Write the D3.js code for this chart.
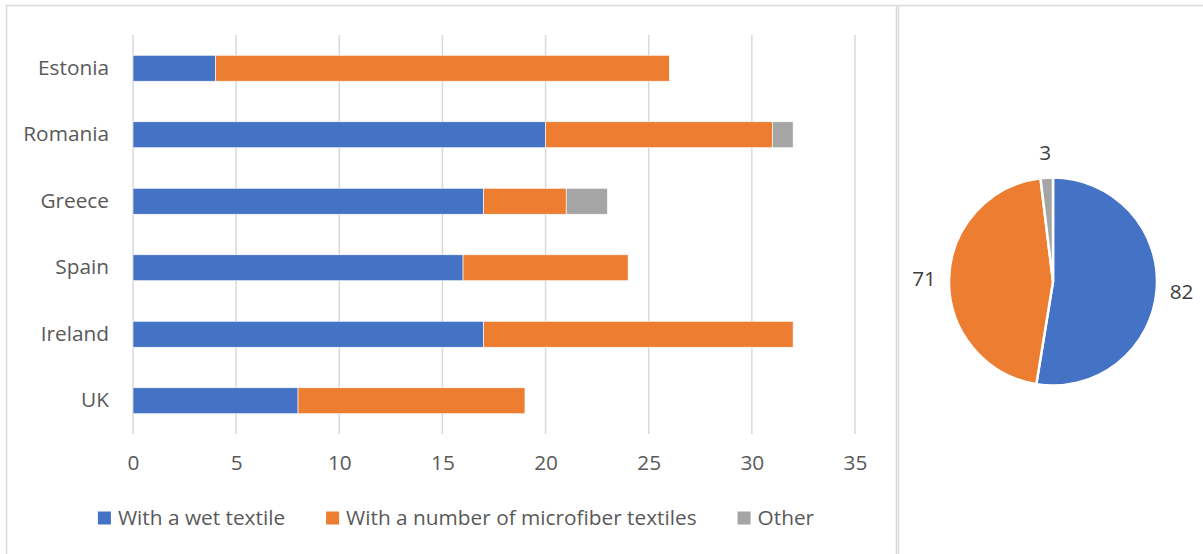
<!DOCTYPE html>
<html>
<head>
<meta charset="utf-8">
<script src="https://cdn.jsdelivr.net/npm/d3@7"></script>
<style>
  html, body { margin: 0; padding: 0; background: #fff; }
  svg { display: block; font-family: "Open Sans", sans-serif; }
</style>
</head>
<body>
<svg id="chart" width="1203" height="554"></svg>
<script>
// Countries, top to bottom
const countries = ["Estonia", "Romania", "Greece", "Spain", "Ireland", "UK"];

// Stacked series values per country
const wetTextile        = [4, 20, 17, 16, 17, 8];
const microfiberTextile = [22, 11, 4, 8, 15, 11];
const otherMethod       = [0, 1, 2, 0, 0, 0];

const seriesNames  = ["With a wet textile", "With a number of microfiber textiles", "Other"];
const seriesColors = ["#4472c4", "#ed7d31", "#a5a5a5"];

// Totals shown in the pie
const pieTotals = [82, 71, 3];

const xTicks = [0, 5, 10, 15, 20, 25, 30, 35];

const textColor = "#595959";
const gridColor = "#d9d9d9";
const fontSize = 20.8;

const svg = d3.select("#chart");

// Panel frames
svg.append("rect").attr("x", 6.5).attr("y", 5.5).attr("width", 890).attr("height", 600)
  .attr("fill", "none").attr("stroke", gridColor).attr("stroke-width", 1.5);
svg.append("rect").attr("x", 898.5).attr("y", 5.5).attr("width", 400).attr("height", 600)
  .attr("fill", "none").attr("stroke", gridColor).attr("stroke-width", 1.5);

// ---------- Stacked bar chart ----------
const plot = { left: 133, right: 855, top: 35, bottom: 434 };

const x = d3.scaleLinear().domain([0, 35]).range([plot.left, plot.right]);
const y = d3.scaleBand().domain(countries).range([plot.top, plot.bottom])
  .paddingInner(0.61).paddingOuter(0.305);

// Vertical gridlines
svg.append("g").selectAll("line").data(xTicks).join("line")
  .attr("x1", d => x(d)).attr("x2", d => x(d))
  .attr("y1", plot.top).attr("y2", plot.bottom)
  .attr("stroke", gridColor).attr("stroke-width", 1.5);

// Stack the three series
const rows = countries.map((c, i) => ({
  country: c,
  s0: wetTextile[i],
  s1: microfiberTextile[i],
  s2: otherMethod[i]
}));
const stacked = d3.stack().keys(["s0", "s1", "s2"])(rows);

svg.append("g").selectAll("g").data(stacked).join("g")
  .attr("fill", (d, i) => seriesColors[i])
  .selectAll("rect").data(d => d.filter(p => p[1] > p[0])).join("rect")
  .attr("x", d => x(d[0]))
  .attr("width", d => x(d[1]) - x(d[0]))
  .attr("y", d => y(d.data.country))
  .attr("height", y.bandwidth())
  .attr("stroke", "#ffffff").attr("stroke-width", 0.6);

// Category labels
const yAxis = svg.append("g").attr("transform", `translate(${plot.left},0)`)
  .call(d3.axisLeft(y).tickSize(0).tickPadding(24));
yAxis.select(".domain").remove();
yAxis.selectAll("text").attr("fill", textColor).attr("font-size", fontSize)
  .attr("font-family", "Open Sans, sans-serif");

// Value axis labels
const xAxis = svg.append("g").attr("transform", `translate(0,${plot.bottom})`)
  .call(d3.axisBottom(x).tickValues(xTicks).tickSize(0).tickPadding(21));
xAxis.select(".domain").remove();
xAxis.selectAll("text").attr("fill", textColor).attr("font-size", fontSize)
  .attr("font-family", "Open Sans, sans-serif");

// Legend, centred under the bars
const legend = svg.append("g");
const legendY = 518;
const items = legend.selectAll("g").data(seriesNames).join("g");
items.append("rect").attr("width", 13).attr("height", 13)
  .attr("y", legendY - 6.5)
  .attr("fill", (d, i) => seriesColors[i]);
items.append("text").attr("x", 20).attr("y", legendY)
  .attr("dy", "0.35em").attr("font-size", fontSize).attr("fill", textColor)
  .text(d => d);
let cursor = 0;
items.each(function () {
  const g = d3.select(this);
  g.attr("transform", `translate(${cursor},0)`);
  const w = g.select("text").node().getComputedTextLength();
  cursor += 20 + w + 41;
});
const legendWidth = cursor - 41;
legend.attr("transform", `translate(${456 - legendWidth / 2},0)`);

// ---------- Pie chart ----------
const pieCenter = { x: 1053, y: 281.5 };
const radius = 104;

const pie = d3.pie().sort(null).value(d => d);
const arcs = pie(pieTotals);
const arc = d3.arc().innerRadius(0).outerRadius(radius);
const labelArc = d3.arc().innerRadius(129).outerRadius(129);

const pieG = svg.append("g").attr("transform", `translate(${pieCenter.x},${pieCenter.y})`);
pieG.selectAll("path").data(arcs).join("path")
  .attr("d", arc)
  .attr("fill", (d, i) => seriesColors[i])
  .attr("stroke", "#ffffff").attr("stroke-width", 2.5).attr("stroke-linejoin", "round");

pieG.selectAll("text").data(arcs).join("text")
  .attr("transform", d => `translate(${labelArc.centroid(d)})`)
  .attr("text-anchor", "middle").attr("dy", "0.35em")
  .attr("font-size", fontSize).attr("fill", "#404040")
  .text(d => d.data);
</script>
</body>
</html>
